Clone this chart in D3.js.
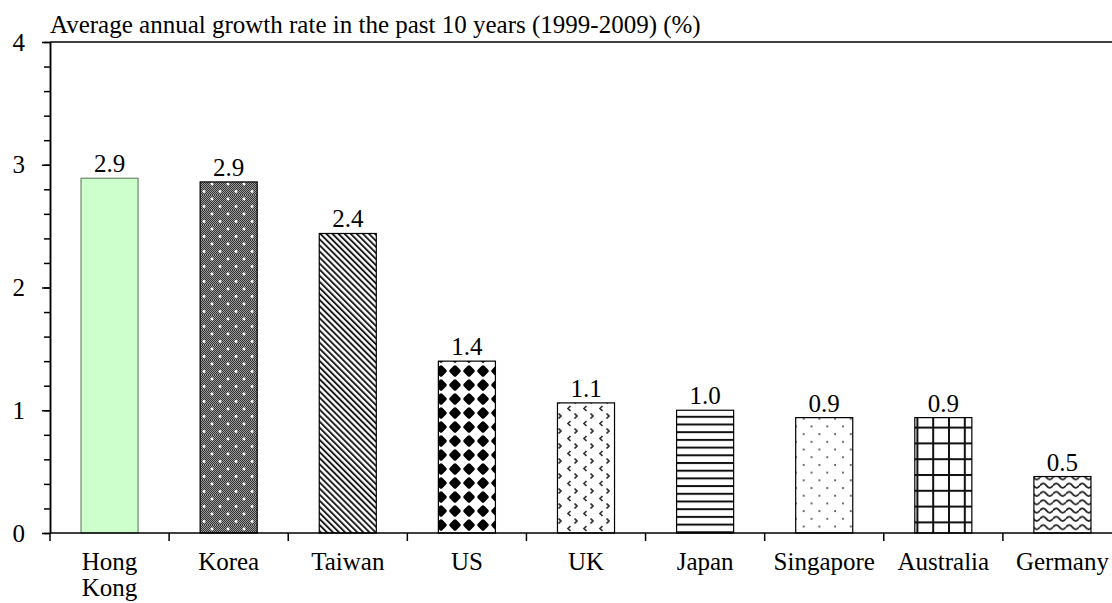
<!DOCTYPE html>
<html>
<head>
<meta charset="utf-8">
<script src="https://cdn.jsdelivr.net/npm/d3@7"></script>
<style>
  body { margin: 0; background: #fff; }
  svg text { font-family: "Liberation Serif", "Times New Roman", serif; fill: #000; }
</style>
</head>
<body>
<script>
//chart data
var categories = ["Hong Kong", "Korea", "Taiwan", "US", "UK", "Japan", "Singapore", "Australia", "Germany"];
var growthRates = [2.89, 2.86, 2.44, 1.40, 1.06, 1.00, 0.94, 0.94, 0.46];
var yTickValues = [0, 1, 2, 3, 4];
var titleText = "Average annual growth rate in the past 10 years (1999-2009) (%)";

//fill for each bar (pattern ids defined below)
var barFills = ["#ccffcc", "url(#pKorea)", "url(#pTaiwan)", "url(#pUS)", "url(#pUK)",
    "url(#pJapan)", "url(#pSingapore)", "url(#pAustralia)", "url(#pGermany)"];

(function(){

    var width = 1112,
        height = 603,
        fontSize = "25px",
        fontFamily = "'Liberation Serif', 'Times New Roman', serif";

    var svg = d3.select("body")
        .append("svg")
        .attr("width", width)
        .attr("height", height);

    setPatterns(svg);

    //scales
    var x = d3.scaleBand()
        .domain(categories)
        .range([50, 1122])
        .paddingInner(0.521)
        .paddingOuter(0.2605);

    var y = d3.scaleLinear()
        .domain([0, 4])
        .range([533, 42]);

    //bars
    svg.selectAll(".bar")
        .data(categories)
        .enter()
        .append("rect")
        .attr("class", "bar")
        .attr("x", function(d){ return x(d); })
        .attr("width", x.bandwidth())
        .attr("y", function(d, i){ return y(growthRates[i]); })
        .attr("height", function(d, i){ return y(0) - y(growthRates[i]); })
        .attr("fill", function(d, i){ return barFills[i]; })
        .attr("stroke", function(d, i){ return i == 0 ? "#6b8a6b" : "#000"; })
        .attr("stroke-width", 1.2);

    //value labels above bars
    svg.selectAll(".valueLabel")
        .data(categories)
        .enter()
        .append("text")
        .attr("class", "valueLabel")
        .attr("text-anchor", "middle")
        .attr("x", function(d){ return x(d) + x.bandwidth() / 2; })
        .attr("y", function(d, i){ return y(growthRates[i]) - 6; })
        .style("font-size", fontSize)
        .text(function(d, i){ return d3.format(".1f")(growthRates[i]); });

    //top frame line of the plot area
    svg.append("line")
        .attr("x1", 50).attr("x2", 1122)
        .attr("y1", y(4)).attr("y2", y(4))
        .attr("stroke", "#000")
        .attr("stroke-width", 1.5);

    //minor y ticks
    var minorAxis = d3.axisLeft(y)
        .tickValues(d3.range(0, 4.001, 0.2))
        .tickSize(6)
        .tickSizeOuter(0)
        .tickFormat("");
    svg.append("g")
        .attr("transform", "translate(50,0)")
        .call(minorAxis)
        .call(function(g){ g.selectAll("line, path").attr("stroke-width", 1.5); });

    //major y ticks and labels
    var yAxis = d3.axisLeft(y)
        .tickValues(yTickValues)
        .tickSize(8)
        .tickSizeOuter(0)
        .tickFormat(d3.format("d"));
    svg.append("g")
        .attr("transform", "translate(50,0)")
        .call(yAxis)
        .call(function(g){
            g.selectAll("line, path").attr("stroke-width", 1.5);
            g.selectAll("text")
                .attr("x", -25)
                .style("font-size", fontSize)
                .style("font-family", fontFamily);
        });

    //x axis line
    svg.append("line")
        .attr("x1", 50).attr("x2", 1122)
        .attr("y1", y(0)).attr("y2", y(0))
        .attr("stroke", "#000")
        .attr("stroke-width", 1.5);

    //category separator ticks
    var gap = (x.step() - x.bandwidth()) / 2;
    var bounds = categories.map(function(d){ return x(d) - gap; });
    bounds.push(x(categories[categories.length - 1]) + x.bandwidth() + gap);
    svg.selectAll(".sepTick")
        .data(bounds)
        .enter()
        .append("line")
        .attr("class", "sepTick")
        .attr("x1", function(d){ return d; })
        .attr("x2", function(d){ return d; })
        .attr("y1", y(0))
        .attr("y2", y(0) + 8)
        .attr("stroke", "#000")
        .attr("stroke-width", 1.5);

    //category labels, wrapped when too wide
    var xAxis = d3.axisBottom(x).tickSize(0).tickSizeOuter(0);
    svg.append("g")
        .attr("transform", "translate(0," + y(0) + ")")
        .call(xAxis)
        .call(function(g){
            g.select(".domain").remove();
            g.selectAll("text")
                .style("font-size", fontSize)
                .style("font-family", fontFamily)
                .attr("y", 37)
                .attr("dy", 0)
                .call(wrap, 100);
        });

    //title
    svg.append("text")
        .attr("x", 50)
        .attr("y", 33)
        .style("font-size", fontSize)
        .text(titleText);

})();

//wrap long labels into several lines
function wrap(texts, maxWidth){
    texts.each(function(){
        var text = d3.select(this),
            words = text.text().split(" "),
            yPos = text.attr("y");
        text.text(null);
        var line = [],
            lineNum = 0,
            tspan = text.append("tspan").attr("x", 0).attr("y", yPos);
        words.forEach(function(word){
            line.push(word);
            tspan.text(line.join(" "));
            if (tspan.node().getComputedTextLength() > maxWidth && line.length > 1){
                line.pop();
                tspan.text(line.join(" "));
                line = [word];
                lineNum++;
                tspan = text.append("tspan")
                    .attr("x", 0)
                    .attr("y", +yPos + lineNum * 26)
                    .text(word);
            };
        });
    });
};

//fill patterns for the bars
function setPatterns(svg){
    var defs = svg.append("defs");

    //fine grey checker used under Korea dots
    var checker = defs.append("pattern")
        .attr("id", "pChecker")
        .attr("patternUnits", "userSpaceOnUse")
        .attr("width", 2).attr("height", 2);
    checker.append("rect").attr("width", 2).attr("height", 2).attr("fill", "#9a9a9a");
    checker.append("rect").attr("width", 1).attr("height", 1).attr("fill", "#333");
    checker.append("rect").attr("x", 1).attr("y", 1).attr("width", 1).attr("height", 1).attr("fill", "#333");

    var korea = defs.append("pattern")
        .attr("id", "pKorea")
        .attr("patternUnits", "userSpaceOnUse")
        .attr("width", 16).attr("height", 15);
    korea.append("rect").attr("width", 16).attr("height", 15).attr("fill", "url(#pChecker)");
    korea.append("circle").attr("cx", 4).attr("cy", 4).attr("r", 1.4).attr("fill", "#fff");
    korea.append("circle").attr("cx", 12).attr("cy", 11.5).attr("r", 1.4).attr("fill", "#fff");

    //diagonal lines
    var taiwan = defs.append("pattern")
        .attr("id", "pTaiwan")
        .attr("patternUnits", "userSpaceOnUse")
        .attr("width", 4.3).attr("height", 4.3)
        .attr("patternTransform", "rotate(-45)");
    taiwan.append("rect").attr("width", 4.3).attr("height", 4.3).attr("fill", "#fff");
    taiwan.append("rect").attr("width", 1.9).attr("height", 4.3).attr("fill", "#1a1a1a");

    //diamonds
    var us = defs.append("pattern")
        .attr("id", "pUS")
        .attr("patternUnits", "userSpaceOnUse")
        .attr("width", 14).attr("height", 14);
    us.append("rect").attr("width", 14).attr("height", 14).attr("fill", "#fff");
    us.append("rect")
        .attr("x", -4.6).attr("y", -4.6).attr("width", 9.2).attr("height", 9.2)
        .attr("rx", 1.8)
        .attr("transform", "translate(7,7) rotate(45)")
        .attr("fill", "#000");

    //small chevrons
    var uk = defs.append("pattern")
        .attr("id", "pUK")
        .attr("patternUnits", "userSpaceOnUse")
        .attr("width", 16).attr("height", 15);
    uk.append("rect").attr("width", 16).attr("height", 15).attr("fill", "#fff");
    uk.append("path")
        .attr("d", "M10.5,1 L8,3.5 L10.5,6 M-1.5,8.5 L1,11 L-1.5,13.5 M14.5,8.5 L17,11 L14.5,13.5")
        .attr("fill", "none")
        .attr("stroke", "#333")
        .attr("stroke-width", 1.7);

    //horizontal lines
    var japan = defs.append("pattern")
        .attr("id", "pJapan")
        .attr("patternUnits", "userSpaceOnUse")
        .attr("width", 8).attr("height", 7.7);
    japan.append("rect").attr("width", 8).attr("height", 7.7).attr("fill", "#fff");
    japan.append("rect").attr("width", 8).attr("height", 2).attr("fill", "#111");

    //sparse dots
    var singapore = defs.append("pattern")
        .attr("id", "pSingapore")
        .attr("patternUnits", "userSpaceOnUse")
        .attr("width", 15.7).attr("height", 15.4);
    singapore.append("rect").attr("width", 15.7).attr("height", 15.4).attr("fill", "#fff");
    singapore.append("circle").attr("cx", 3).attr("cy", 3).attr("r", 1).attr("fill", "#444");
    singapore.append("circle").attr("cx", 10.85).attr("cy", 10.7).attr("r", 1).attr("fill", "#444");

    //grid
    var australia = defs.append("pattern")
        .attr("id", "pAustralia")
        .attr("patternUnits", "userSpaceOnUse")
        .attr("width", 15.8).attr("height", 15.8);
    australia.append("rect").attr("width", 15.8).attr("height", 15.8).attr("fill", "#fff");
    australia.append("rect").attr("width", 2).attr("height", 15.8).attr("fill", "#111");
    australia.append("rect").attr("width", 15.8).attr("height", 2).attr("fill", "#111");

    //waves
    var germany = defs.append("pattern")
        .attr("id", "pGermany")
        .attr("patternUnits", "userSpaceOnUse")
        .attr("width", 13).attr("height", 8.3);
    germany.append("rect").attr("width", 13).attr("height", 8.3).attr("fill", "#fff");
    germany.append("path")
        .attr("d", "M0,4.2 Q3.25,-0.2 6.5,4.2 T13,4.2")
        .attr("fill", "none")
        .attr("stroke", "#222")
        .attr("stroke-width", 1.8);
};
</script>
</body>
</html>
